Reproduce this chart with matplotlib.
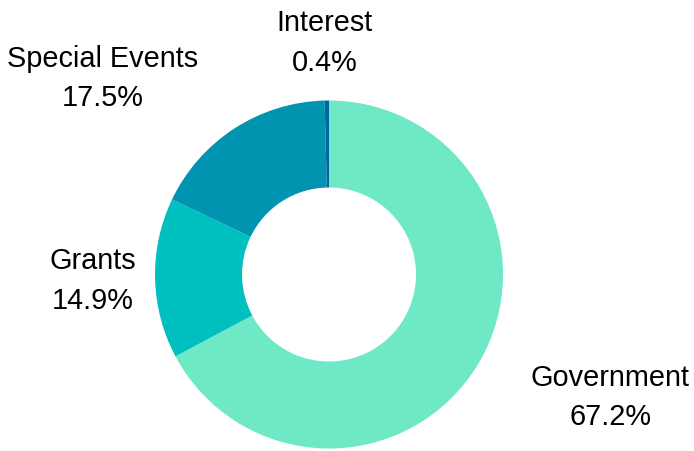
import matplotlib
matplotlib.use("Agg")
import matplotlib.pyplot as plt

categories = ["Government", "Grants", "Special Events", "Interest"]
values = [67.2, 14.9, 17.5, 0.4]
colors = ["#6ee8c5", "#00c0bf", "#0094b0", "#0066a0"]
# label text centres in pie-radius units
label_pos = [(1.615, -0.708), (-1.356, -0.038), (-1.299, 1.127), (-0.023, 1.33)]

W, H = 694, 451
fig = plt.figure(figsize=(W / 100, H / 100), dpi=100)
ax = fig.add_axes([0, 0, 1, 1])
R = 174.0
cx, cy = 329.0, 274.5

ax.pie(values, colors=colors, startangle=90, counterclock=False, radius=1.0,
       wedgeprops=dict(width=0.5, linewidth=0), frame=True)
ax.set_xlim(-cx / R, (W - cx) / R)
ax.set_ylim(-(H - cy) / R, cy / R)
ax.set_aspect("auto")
ax.axis("off")

for cat, v, (x, y) in zip(categories, values, label_pos):
    ax.text(x, y, f"{cat}\n{v:.1f}%", ha="center", va="center", fontsize=20.8,
            family="Liberation Sans", color="#000000", linespacing=1.52)

fig.savefig("out.png", dpi=100)
